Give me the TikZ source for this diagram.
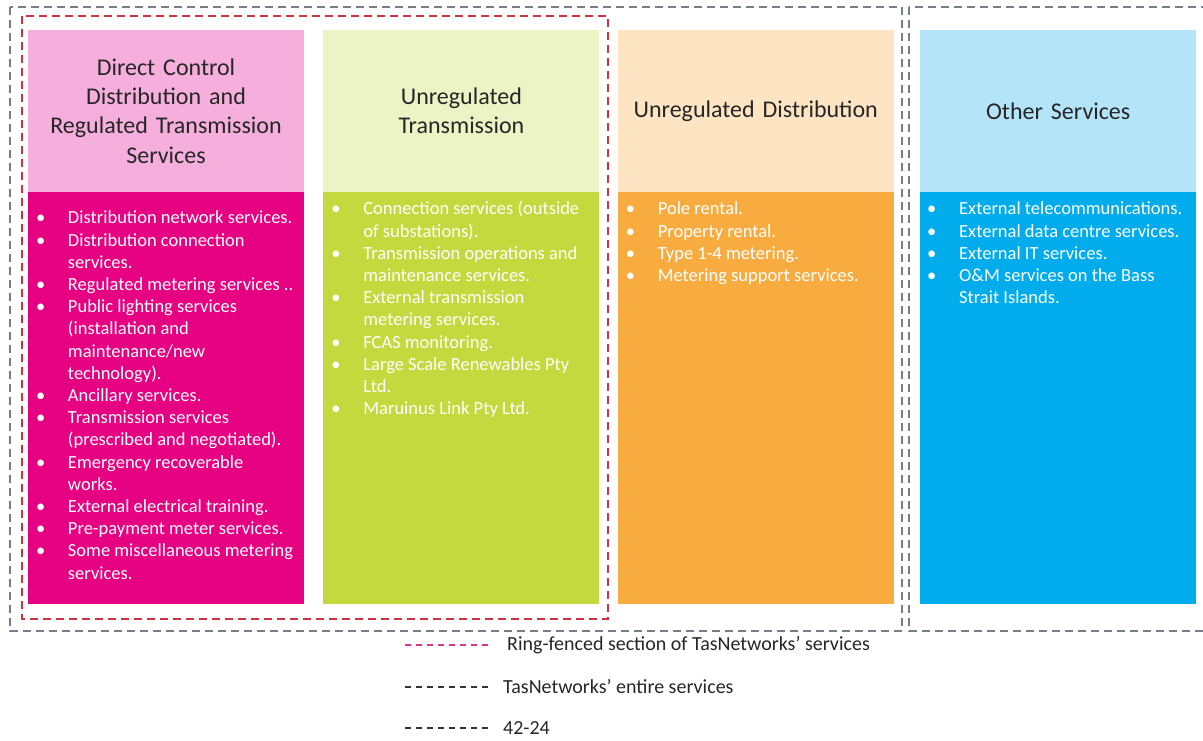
\documentclass[tikz,border=0pt]{standalone}
\usepackage{fontspec}
\setmainfont{Carlito}
\usetikzlibrary{positioning}
\definecolor{pinkhead}{RGB}{246,175,220}
\definecolor{pinkbody}{RGB}{230,0,130}
\definecolor{greenhead}{RGB}{236,243,196}
\definecolor{greenbody}{RGB}{196,217,62}
\definecolor{orangehead}{RGB}{253,228,195}
\definecolor{orangebody}{RGB}{248,172,64}
\definecolor{bluehead}{RGB}{179,228,248}
\definecolor{bluebody}{RGB}{0,172,235}
\definecolor{framegray}{RGB}{120,126,136}
\definecolor{fencered}{RGB}{205,50,65}
\definecolor{legendpink}{RGB}{220,50,150}
\newcommand{\svcfont}{\fontsize{18.5}{22.2}\selectfont}
\newcommand{\headfont}{\fontsize{24}{29.3}\selectfont}
\newcommand{\legfont}{\fontsize{20}{24}\selectfont}

\begin{document}
\begin{tikzpicture}[x=1pt, y=-1pt,
    head/.style={rectangle, minimum width=276pt, minimum height=162pt, inner sep=0pt, text width=270pt, align=center, font=\headfont, text=black!85},
    body/.style={rectangle, minimum width=276pt, minimum height=412pt, inner sep=0pt},
    svclist/.style={anchor=north west, inner sep=0pt, text=white, font=\svcfont},
    entire/.style={draw=framegray, dash pattern=on 8pt off 5pt, line width=1.2pt},
    ringfence/.style={draw=fencered, dash pattern=on 8pt off 5pt, line width=1.2pt},
    legline/.style={dash pattern=on 6pt off 5pt, line width=1.2pt},
    legtext/.style={anchor=west, font=\legfont, text=black!85, inner sep=0pt}
 ]
\useasboundingbox (0,0) rectangle (1203,740);
\clip (0,0) rectangle (1203,740);

\node[head, fill=pinkhead] (DirectHead) at (166,111) {Direct Control\\Distribution and\\Regulated Transmission\\Services};
\node[body, fill=pinkbody, below=0pt of DirectHead] (DirectBody) {};
\node[svclist, below right=16pt and 8pt of DirectBody.north west] (DirectList) {%
\begin{tabular}{@{}p{32pt}@{}l@{}}
\textbullet & Distribution network services.\\
\textbullet & Distribution connection\\
 & services.\\
\textbullet & Regulated metering services ..\\
\textbullet & Public lighting services\\
 & (installation and\\
 & maintenance/new\\
 & technology).\\
\textbullet & Ancillary services.\\
\textbullet & Transmission services\\
 & (prescribed and negotiated).\\
\textbullet & Emergency recoverable\\
 & works.\\
\textbullet & External electrical training.\\
\textbullet & Pre-payment meter services.\\
\textbullet & Some miscellaneous metering\\
 & services.
\end{tabular}};

\node[head, fill=greenhead, right=19pt of DirectHead] (TransHead) {Unregulated\\Transmission};
\node[body, fill=greenbody, below=0pt of TransHead] (TransBody) {};
\node[svclist, below right=7pt and 8pt of TransBody.north west] (TransList) {%
\begin{tabular}{@{}p{32pt}@{}l@{}}
\textbullet & Connection services (outside\\
 & of substations).\\
\textbullet & Transmission operations and\\
 & maintenance services.\\
\textbullet & External transmission\\
 & metering services.\\
\textbullet & FCAS monitoring.\\
\textbullet & Large Scale Renewables Pty\\
 & Ltd.\\
\textbullet & Maruinus Link Pty Ltd.
\end{tabular}};

\node[head, fill=orangehead, right=18pt of TransHead] (DistHead) {Unregulated Distribution};
\node[body, fill=orangebody, below=0pt of DistHead] (DistBody) {};
\node[svclist, below right=7pt and 8pt of DistBody.north west] (DistList) {%
\begin{tabular}{@{}p{32pt}@{}l@{}}
\textbullet & Pole rental.\\
\textbullet & Property rental.\\
\textbullet & Type 1-4 metering.\\
\textbullet & Metering support services.
\end{tabular}};

\node[head, fill=bluehead, right=26pt of DistHead] (OtherHead) {Other Services};
\node[body, fill=bluebody, below=0pt of OtherHead] (OtherBody) {};
\node[svclist, below right=7pt and 7pt of OtherBody.north west] (OtherList) {%
\begin{tabular}{@{}p{32pt}@{}l@{}}
\textbullet & External telecommunications.\\
\textbullet & External data centre services.\\
\textbullet & External IT services.\\
\textbullet & O\&M services on the Bass\\
 & Strait Islands.
\end{tabular}};

\draw[entire] (10,7) rectangle (902,631);
\draw[entire] (909,7) rectangle (1215,631);
\draw[ringfence] (22,16) rectangle (608,619);

\node[legtext] (LegRing) at (507,645) {Ring-fenced section of TasNetworks’ services};
\draw[legline, draw=legendpink] ([xshift=-19pt]LegRing.west) -- ++(-83,0);
\node[legtext] (LegEntire) at (503,687) {TasNetworks’ entire services};
\draw[legline, draw=black!80] ([xshift=-15pt]LegEntire.west) -- ++(-83,0);
\node[legtext] (LegOther) at (503,728) {42-24};
\draw[legline, draw=black!80] ([xshift=-15pt]LegOther.west) -- ++(-83,0);

\end{tikzpicture}
\end{document}
